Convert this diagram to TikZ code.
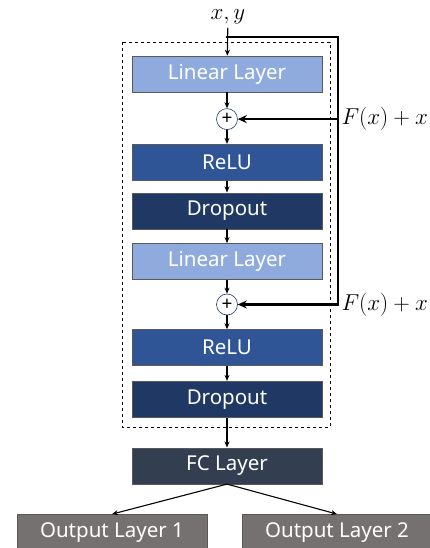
\RequirePackage{fix-cm}
\documentclass[tikz,border=0pt]{standalone}
\usepackage{fontspec}
\setmainfont{Noto Sans}
\usetikzlibrary{positioning,arrows.meta}
\definecolor{linblue}{HTML}{8FAADC}
\definecolor{relublue}{HTML}{2F5597}
\definecolor{dropblue}{HTML}{1F3864}
\definecolor{fcslate}{HTML}{333F50}
\definecolor{outgray}{HTML}{767171}

\begin{document}
\begin{tikzpicture}[x=1pt, y=-1pt,
	layer/.style={rectangle, draw=black!65, line width=0.6pt, minimum width=190pt, minimum height=36pt, text=white, font=\fontsize{20.5}{24}\selectfont},
	addnode/.style={circle, draw=dropblue, fill=white, line width=0.6pt, minimum size=21pt, inner sep=0pt, font=\fontsize{19}{19}\selectfont},
	flow/.style={-{Stealth[length=6pt,width=5pt]}, line width=1.1pt},
	skip/.style={line width=2.4pt, line join=miter},
	mathlbl/.style={font=\fontsize{23}{26}\selectfont}]
	\useasboundingbox (0,0) rectangle (430,548);
	\clip (0,0) rectangle (430,548);

	\node[mathlbl] (in) at (228,17) {$x, y$};
	\node[layer, fill=linblue] (lin1) at (227,74) {Linear Layer};
	\node[addnode, below=16pt of lin1] (add1) {+};
	\node[layer, fill=relublue, below=14pt of add1] (relu1) {ReLU};
	\node[layer, fill=dropblue, below=12pt of relu1] (drop1) {Dropout};
	\node[layer, fill=linblue, below=14pt of drop1] (lin2) {Linear Layer};
	\node[addnode, below=14pt of lin2] (add2) {+};
	\node[layer, fill=relublue, below=14pt of add2] (relu2) {ReLU};
	\node[layer, fill=dropblue, below=15pt of relu2] (drop2) {Dropout};
	\node[layer, fill=fcslate, below=30pt of drop2] (fc) {FC Layer};
	\node[layer, fill=outgray, below=30pt of fc, xshift=-115pt] (out1) {Output Layer 1};
	\node[layer, fill=outgray, below=30pt of fc, xshift=110pt] (out2) {Output Layer 2};

	% residual block frame
	\draw[dashed, line width=0.6pt] (122,42) rectangle (330,427);

	\draw[flow] (in) -- (lin1);
	\draw[flow] (lin1) -- (add1);
	\draw[flow] (add1) -- (relu1);
	\draw[flow] (relu1) -- (drop1);
	\draw[flow] (drop1) -- (lin2);
	\draw[flow] (lin2) -- (add2);
	\draw[flow] (add2) -- (relu2);
	\draw[flow] (relu2) -- (drop2);
	\draw[flow] (drop2) -- (fc);
	\draw[flow] (fc.south) -- (out1.north);
	\draw[flow] (fc.south) -- (out2.north);

	% skip connection
	\coordinate (tap) at (lin1.north |- 0,37);
	\coordinate (bend) at (338,37);
	\draw[skip, -{Stealth[length=9pt,width=8pt]}] ([xshift=-0.6pt]tap) -- (bend) -- (bend |- add2) -- (add2);
	\draw[skip, -{Stealth[length=9pt,width=8pt]}] (bend |- add1) -- (add1);
	\node[mathlbl, right=0pt] (fx1) at (bend |- add1) {$F(x)+x$};
	\node[mathlbl, right=0pt] (fx2) at (bend |- add2) {$F(x)+x$};
\end{tikzpicture}
\end{document}
